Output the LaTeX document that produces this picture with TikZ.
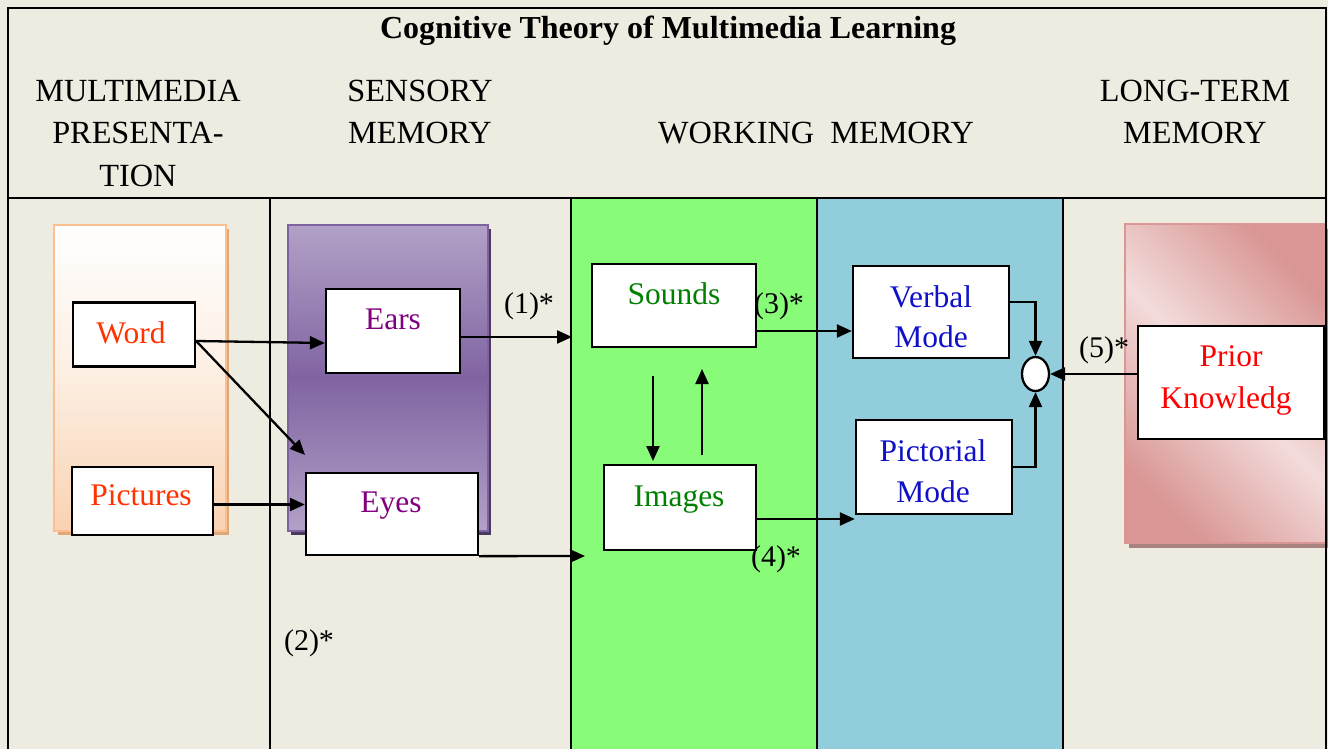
\documentclass[tikz,border=0pt]{standalone}
\usepackage{fontspec}
\setmainfont{Liberation Serif}
\usetikzlibrary{arrows.meta,shapes.geometric,calc}
\definecolor{bg}{HTML}{EEECE1}
\definecolor{wmgreen}{HTML}{88FB78}
\definecolor{wmblue}{HTML}{92CDDC}
\definecolor{orline}{HTML}{FAC090}
\definecolor{orbottom}{HTML}{FAD2B2}
\definecolor{ormid}{HTML}{FDEEE2}
\definecolor{orshadow}{HTML}{E0A878}
\definecolor{pulight}{HTML}{B2A1C7}
\definecolor{pudark}{HTML}{8064A2}
\definecolor{puline}{HTML}{7F63A1}
\definecolor{pushadow}{HTML}{4A3A60}
\definecolor{pidark}{HTML}{D99694}
\definecolor{pilight}{HTML}{F2DCDB}
\definecolor{pishadow}{HTML}{A8837F}
\definecolor{tword}{HTML}{FF3300}
\definecolor{tsense}{HTML}{800080}
\definecolor{tgreen}{HTML}{008000}
\definecolor{tblue}{HTML}{1010C8}
\definecolor{tred}{HTML}{FF0000}
\begin{document}
\begin{tikzpicture}[x=1pt,y=-1pt,
  box/.style={draw=black,fill=white,line width=2.3pt,inner sep=0pt,rectangle},
  txt/.style={font=\fontsize{31.5}{42}\selectfont,anchor=base,inner sep=0pt,align=center},
  hdr/.style={font=\fontsize{32.3}{42}\selectfont,anchor=base,inner sep=0pt,align=center},
  arr/.style={-{Triangle[length=15pt,width=13pt]},line width=2.3pt},
  ln/.style={line width=2.3pt}]
\useasboundingbox (0,0) rectangle (1328,749);
\fill[bg] (0,0) rectangle (1328,749);
\fill[wmgreen] (571,198) rectangle (817,749);
\fill[wmblue] (817,198) rectangle (1063,749);
% panels
\fill[orshadow] (58,229) rectangle (229,535);
\shade[top color=white,bottom color=orbottom,middle color=ormid] (54,225) rectangle (226,531);
\draw[orline,line width=1.8pt] (54,225) rectangle (226,531);
\fill[pushadow] (291,229) rectangle (491,535);
\shade[top color=pulight,bottom color=pulight,middle color=pudark] (288,225) rectangle (488,531);
\draw[puline,line width=1.8pt] (288,225) rectangle (488,531);
\fill[pishadow] (1129,229) rectangle (1330,548);
\shade[left color=pidark,right color=pidark,middle color=pilight,shading angle=135] (1125,224) rectangle (1326,543);
\draw[pidark,line width=1.8pt] (1125,224) rectangle (1326,543);
% grid lines
\draw[ln] (8,8) rectangle (1326,760);
\draw[ln] (8,198) -- (1326,198);
\foreach \xx in {270,571,817,1063} \draw[ln] (\xx,198) -- (\xx,760);
% header
\node[hdr,font=\bfseries\fontsize{32}{42}\selectfont] (title) at (668,39) {Cognitive Theory of Multimedia Learning};
\node[hdr] (h1a) at (138,102) {MULTIMEDIA};
\node[hdr] (h1b) at (138,144) {PRESENTA-};
\node[hdr] (h1c) at (138,186) {TION};
\node[hdr] (h2a) at (420,102) {SENSORY};
\node[hdr] (h2b) at (420,144) {MEMORY};
\node[hdr] (h3) at (816,144) {WORKING\ \ MEMORY};
\node[hdr] (h4a) at (1195,102) {LONG-TERM};
\node[hdr] (h4b) at (1195,144) {MEMORY};
% boxes
\node[box,minimum width=122pt,minimum height=64pt] (word) at (134,334.5) {};
\node[box,minimum width=141pt,minimum height=68pt] (pictures) at (142.5,501) {};
\node[box,minimum width=134pt,minimum height=84pt] (ears) at (393,331) {};
\node[box,minimum width=172pt,minimum height=82pt] (eyes) at (392,514) {};
\node[box,minimum width=164pt,minimum height=83pt] (sounds) at (674,305.5) {};
\node[box,minimum width=152pt,minimum height=85pt] (images) at (680,507.5) {};
\node[box,minimum width=156pt,minimum height=92pt] (verbal) at (931,312) {};
\node[box,minimum width=156pt,minimum height=94pt] (pictorial) at (934,467) {};
\node[box,minimum width=186pt,minimum height=113pt] (prior) at (1231,382.5) {};
\node[draw=black,fill=white,line width=2.3pt,ellipse,inner sep=0pt,minimum width=27pt,minimum height=34pt] (circ) at (1035.5,374) {};
% box texts
\node[txt,text=tword] (wordT) at (131,343) {Word};
\node[txt,text=tword] (picturesT) at (141,505) {Pictures};
\node[txt,text=tsense] (earsT) at (393,329) {Ears};
\node[txt,text=tsense] (eyesT) at (391,512) {Eyes};
\node[txt,text=tgreen] (soundsT) at (674,304) {Sounds};
\node[txt,text=tgreen] (imagesT) at (679,506) {Images};
\node[txt,text=tblue] (verbalT1) at (931,307) {Verbal};
\node[txt,text=tblue] (verbalT2) at (931,347) {Mode};
\node[txt,text=tblue] (pictT1) at (933,461) {Pictorial};
\node[txt,text=tblue] (pictT2) at (933,502) {Mode};
\node[txt,text=tred] (priorT1) at (1231,366) {Prior};
\node[txt,text=tred] (priorT2) at (1226,408) {Knowledg};
% step labels
\node[txt,font=\fontsize{30}{36}\selectfont] (l1) at (529,313) {(1)*};
\node[txt,font=\fontsize{30}{36}\selectfont] (l2) at (309,650) {(2)*};
\node[txt,font=\fontsize{30}{36}\selectfont] (l3) at (779,313) {(3)*};
\node[txt,font=\fontsize{30}{36}\selectfont] (l4) at (776,566) {(4)*};
\node[txt,font=\fontsize{30}{36}\selectfont] (l5) at (1104,357) {(5)*};
% connectors
\coordinate (wo) at ($(word.east)+(0,6.5)$);
\coordinate (diagEnd) at (305,455);
\coordinate (g1) at (572,337);
\coordinate (g2) at (585,556);
\coordinate (dnA) at (653,376);
\coordinate (dnB) at (653,461);
\coordinate (upA) at (702,455);
\coordinate (upB) at (702,369);
\draw[arr] (wo) -- ($(ears.west)+(0,12)$);
\draw[arr] (wo) -- (diagEnd);
\draw[arr] ($(pictures.east)+(0,3.5)$) -- ($(eyes.west)+(0,-9.5)$);
\draw[arr] ($(ears.east)+(0,6)$) -- (g1);
\draw[arr] (eyes.south east) -- (g2);
\draw[arr] (dnA) -- (dnB);
\draw[arr] (upA) -- (upB);
\draw[arr] ($(sounds.east)+(0,25.5)$) -- ($(verbal.west)+(0,19)$);
\draw[arr] ($(images.east)+(0,11.5)$) -- ($(pictorial.west)+(0,52)$);
\draw[arr] ($(verbal.east)+(0,-10)$) -| (circ.north);
\draw[arr] (pictorial.east) -| (circ.south);
\draw[arr] (prior.west |- circ.east) -- (circ.east);
\end{tikzpicture}
\end{document}
